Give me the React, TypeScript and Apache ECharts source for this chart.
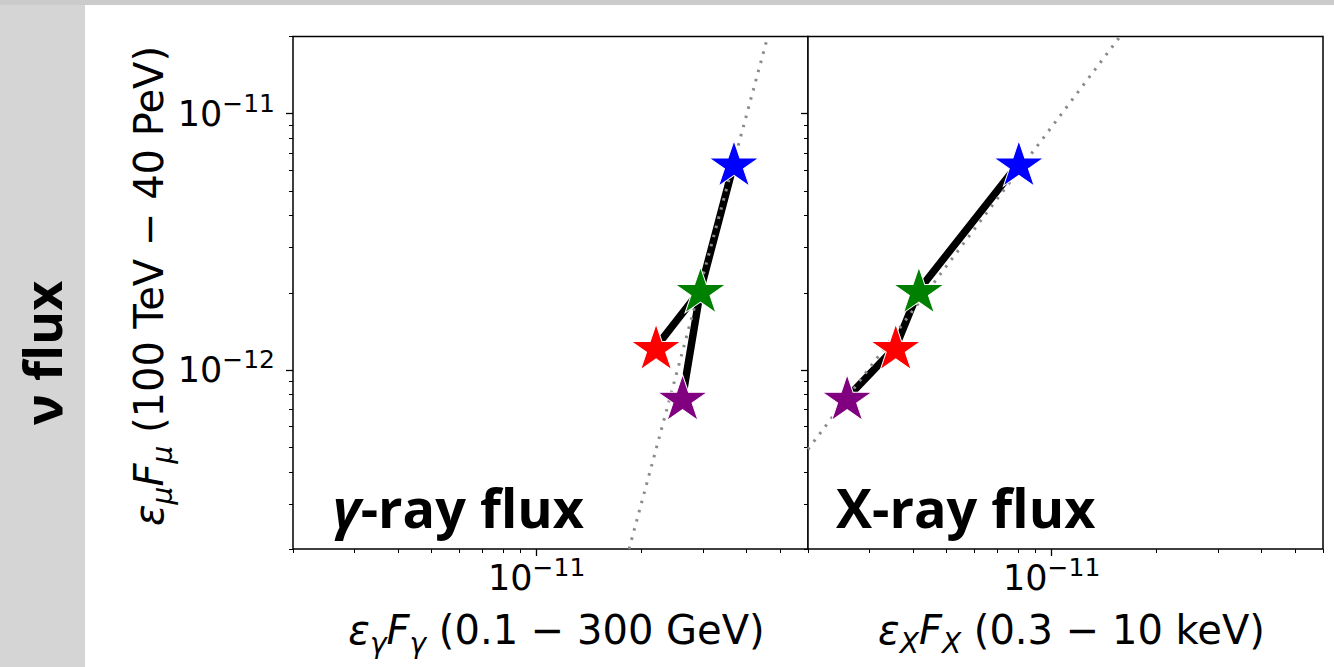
import React, { useEffect, useRef } from "react";
import * as echarts from "echarts";

// ---------- data ----------
const starNames = ["blue", "green", "red", "purple"];
const starColors = ["#0000ff", "#008000", "#ff0000", "#800080"];
const nuFlux = [6.4e-12, 2.05e-12, 1.23e-12, 7.8e-13];
const gammaFlux = [3.68e-11, 2.95e-11, 2.2e-11, 2.62e-11];
const xrayFlux = [8.05e-12, 4.16e-12, 3.57e-12, 2.59e-12];
const gammaLinks = [
  [0, 1],
  [1, 2],
  [1, 3],
];
const xrayLinks = [
  [3, 2],
  [2, 1],
  [1, 0],
];
const gammaFitX = [1.84e-11, 4.6e-11];
const gammaFitY = [2e-13, 2e-11];
const xrayFitX = [2e-12, 1.57e-11];
const xrayFitY = [4.9e-13, 2e-11];
const xRange = [2e-12, 6e-11];
const yRange = [2e-13, 2e-11];
const xMajorTicks = [1e-11];
const xMinorTicks = [
  2e-12, 3e-12, 4e-12, 5e-12, 6e-12, 7e-12, 8e-12, 9e-12, 2e-11, 3e-11, 4e-11, 5e-11, 6e-11,
];
const yMajorTicks = [1e-12, 1e-11];
const yMinorTicks = [
  2e-13, 3e-13, 4e-13, 5e-13, 6e-13, 7e-13, 8e-13, 9e-13, 2e-12, 3e-12, 4e-12, 5e-12, 6e-12,
  7e-12, 8e-12, 9e-12, 2e-11,
];
const yTitle = "(100 TeV − 40 PeV)";
const xTitles = ["(0.1 − 300 GeV)", "(0.3 − 10 keV)"];
const xSubs = ["γ", "X"];
const panelLabels = ["γ", "X"];

// ---------- layout / styles ----------
const STAR =
  "path://M100 0 L122.45 69.1 L195.11 69.1 L136.33 111.8 L158.78 180.9 L100 138.2 L41.22 180.9 L63.67 111.8 L4.89 69.1 L77.55 69.1 Z";
const GRID_TOP = 36.5;
const GRID_H = 512.5;
const GRID_W = 515;
const PANEL_LEFT = [293, 808];
const LABEL_OFFSET = [40, 28];
const lg = (v: number) => Math.log10(v);
const DJ = "'DejaVu Sans', sans-serif";
const BOLD = "'Open Sans', 'Noto Sans', sans-serif";

const tickRich = {
  b: { fontFamily: DJ, fontSize: 35, lineHeight: 46, color: "#000" },
  s: { fontFamily: DJ, fontSize: 25, lineHeight: 28, color: "#000", verticalAlign: "top" },
};
const powLabel = (v: number) => `{b|10}{s|−${Math.round(Math.abs(v))}}`;

const titleRich = {
  it: { fontFamily: DJ, fontStyle: "italic", fontSize: 40, lineHeight: 54, fill: "#000" },
  sub: {
    fontFamily: DJ,
    fontStyle: "italic",
    fontSize: 28,
    lineHeight: 30,
    verticalAlign: "bottom",
    fill: "#000",
  },
  n: { fontFamily: DJ, fontSize: 40, lineHeight: 54, fill: "#000" },
};

function buildOption() {
  const grid: any[] = [];
  const xAxis: any[] = [];
  const yAxis: any[] = [];
  const series: any[] = [];
  const panelX = [gammaFlux, xrayFlux];
  const panelLinks = [gammaLinks, xrayLinks];
  const fitX = [gammaFitX, xrayFitX];
  const fitY = [gammaFitY, xrayFitY];

  PANEL_LEFT.forEach((left, pi) => {
    const base = pi * 3;
    for (let k = 0; k < 3; k++) {
      grid.push({
        left,
        top: GRID_TOP,
        width: GRID_W,
        height: GRID_H,
        containLabel: false,
        outerBoundsMode: "none",
        show: k === 0,
        backgroundColor: "#fff",
        borderColor: "#000",
        borderWidth: 1.5,
      });
    }
    // data axes (log)
    xAxis.push({
      type: "log",
      logBase: 10,
      gridIndex: base,
      min: xRange[0],
      max: xRange[1],
      show: false,
    });
    yAxis.push({
      type: "log",
      logBase: 10,
      gridIndex: base,
      min: yRange[0],
      max: yRange[1],
      show: false,
    });
    // major ticks
    xAxis.push({
      type: "value",
      gridIndex: base + 1,
      position: "bottom",
      min: lg(xRange[0]),
      max: lg(xRange[1]),
      axisLine: { show: false },
      splitLine: { show: false },
      axisTick: {
        show: true,
        inside: false,
        length: 7,
        customValues: xMajorTicks.map(lg),
        lineStyle: { color: "#000", width: 1.3 },
      },
      axisLabel: {
        show: true,
        customValues: xMajorTicks.map(lg),
        formatter: powLabel,
        rich: tickRich,
        margin: 6,
      },
    });
    yAxis.push({
      type: "value",
      gridIndex: base + 1,
      position: "left",
      min: lg(yRange[0]),
      max: lg(yRange[1]),
      axisLine: { show: false },
      splitLine: { show: false },
      axisTick: {
        show: true,
        inside: false,
        length: 7,
        customValues: yMajorTicks.map(lg),
        lineStyle: { color: "#000", width: 1.3 },
      },
      axisLabel: {
        show: pi === 0,
        customValues: yMajorTicks.map(lg),
        formatter: powLabel,
        rich: tickRich,
        margin: 18,
      },
    });
    // minor ticks
    xAxis.push({
      type: "value",
      gridIndex: base + 2,
      position: "bottom",
      min: lg(xRange[0]),
      max: lg(xRange[1]),
      axisLine: { show: false },
      splitLine: { show: false },
      axisTick: {
        show: true,
        inside: false,
        length: 4,
        customValues: xMinorTicks.map(lg),
        lineStyle: { color: "#000", width: 1 },
      },
      axisLabel: { show: false },
    });
    yAxis.push({
      type: "value",
      gridIndex: base + 2,
      position: "left",
      min: lg(yRange[0]),
      max: lg(yRange[1]),
      axisLine: { show: false },
      splitLine: { show: false },
      axisTick: {
        show: true,
        inside: false,
        length: 4,
        customValues: yMinorTicks.map(lg),
        lineStyle: { color: "#000", width: 1 },
      },
      axisLabel: { show: false },
    });

    const xs = panelX[pi];
    panelLinks[pi].forEach(([a, b]) => {
      series.push({
        type: "line",
        xAxisIndex: base,
        yAxisIndex: base,
        data: [
          [xs[a], nuFlux[a]],
          [xs[b], nuFlux[b]],
        ],
        symbol: "none",
        silent: true,
        lineStyle: { color: "#000", width: 7.5, cap: "round" },
        z: 2,
      });
    });
    series.push({
      type: "line",
      xAxisIndex: base,
      yAxisIndex: base,
      data: [
        [fitX[pi][0], fitY[pi][0]],
        [fitX[pi][1], fitY[pi][1]],
      ],
      symbol: "none",
      silent: true,
      lineStyle: { color: "#8a8a8a", width: 3, type: [2.5, 7] },
      z: 3,
    });
    series.push({
      type: "scatter",
      name: pi === 0 ? "gamma" : "xray",
      xAxisIndex: base,
      yAxisIndex: base,
      symbol: STAR,
      symbolSize: [50, 48],
      symbolKeepAspect: true,
      data: xs.map((x, i) => ({
        name: starNames[i],
        value: [x, nuFlux[i]],
        itemStyle: { color: starColors[i] },
      })),
      itemStyle: { borderColor: "#fff", borderWidth: 1, opacity: 1 },
      z: 4,
    });
  });

  const graphic: any[] = [
    {
      type: "text",
      x: 41,
      y: 353,
      rotation: Math.PI / 2,
      style: {
        text: "ν flux",
        fontFamily: BOLD,
        fontWeight: "bold",
        fontSize: 52,
        fill: "#000",
        align: "center",
        verticalAlign: "middle",
      },
    },
    {
      type: "text",
      x: 149,
      y: 286,
      rotation: Math.PI / 2,
      style: {
        text: `{it|ε}{sub|μ}{it|F}{sub|μ}{n| ${yTitle}}`,
        rich: titleRich,
        align: "center",
        verticalAlign: "middle",
      },
    },
  ];
  PANEL_LEFT.forEach((left, pi) => {
    graphic.push({
      type: "text",
      x: left + GRID_W / 2 + 6,
      y: 630,
      style: {
        text: `{it|ε}{sub|${xSubs[pi]}}{it|F}{sub|${xSubs[pi]}}{n| ${xTitles[pi]}}`,
        rich: titleRich,
        align: "center",
        verticalAlign: "middle",
      },
    });
    graphic.push({
      type: "text",
      x: left + LABEL_OFFSET[pi],
      y: 507,
      z: 10,
      style: {
        text: `{g|${panelLabels[pi]}}{n|-ray flux}`,
        rich: {
          g: {
            fontFamily: BOLD,
            fontWeight: "bold",
            fontStyle: pi === 0 ? "italic" : "normal",
            fontSize: 54,
            fill: "#000",
          },
          n: { fontFamily: BOLD, fontWeight: "bold", fontSize: 54, fill: "#000" },
        },
        align: "left",
        verticalAlign: "middle",
      },
    });
  });

  return {
    animation: false,
    backgroundColor: "transparent",
    grid,
    xAxis,
    yAxis,
    series,
    graphic,
  };
}

export default function App() {
  const ref = useRef<HTMLDivElement>(null);
  useEffect(() => {
    const chart = echarts.init(ref.current!, null, { renderer: "svg" });
    chart.setOption(buildOption() as any);
    return () => chart.dispose();
  }, []);
  return (
    <div
      style={{
        position: "fixed",
        left: 0,
        top: 0,
        width: 1334,
        height: 667,
        background: "#d5d5d5",
        overflow: "hidden",
      }}
    >
      <div style={{ position: "absolute", left: 0, top: 0, width: 1334, height: 5, background: "#cbcbcb" }} />
      <div style={{ position: "absolute", left: 85, top: 5, width: 1249, height: 662, background: "#fff" }} />
      <div ref={ref} style={{ position: "absolute", left: 0, top: 0, width: 1334, height: 667 }} />
    </div>
  );
}
